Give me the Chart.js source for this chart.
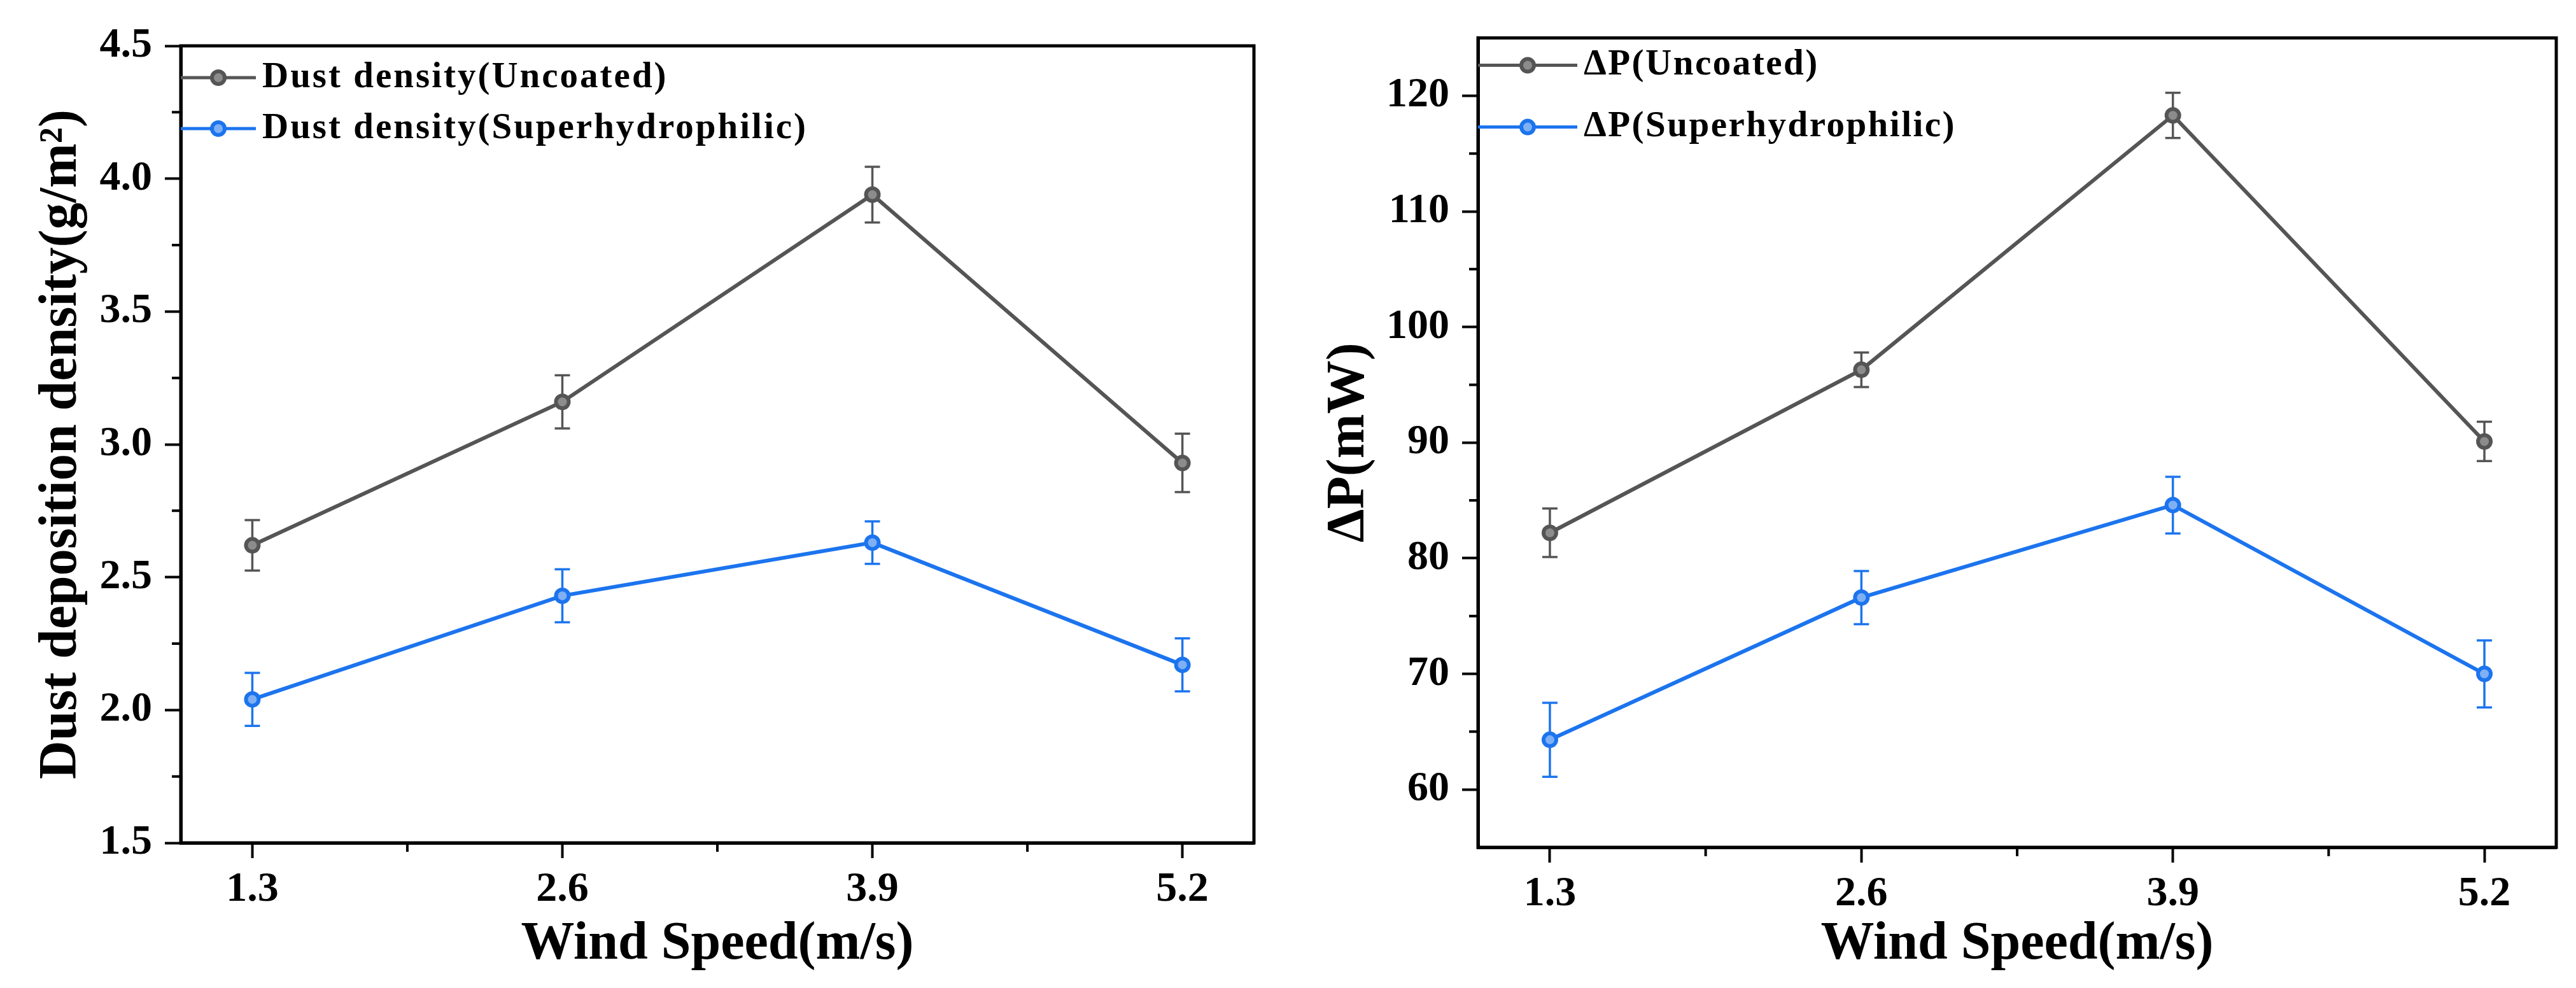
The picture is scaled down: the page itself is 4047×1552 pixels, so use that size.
<!DOCTYPE html>
<html lang="en">

<head>
  <meta charset="UTF-8" />
  <title>Dust deposition and power loss vs wind speed</title>
  <script src="https://cdn.jsdelivr.net/npm/chart.js"></script>
  <style>
    html, body { margin: 0; padding: 0; background: #ffffff; }
    body { width: 4047px; height: 1552px; position: relative; overflow: hidden; }
    canvas { position: absolute; top: 0; }
    #chartDust { left: 0; }
    #chartPower { left: 2040px; }
  </style>
</head>

<body>
  <canvas id="chartDust" width="2040" height="1552"></canvas>
  <canvas id="chartPower" width="2007" height="1552"></canvas>
</body>

</html>

<script>
  // data
  var windSpeed = [1.3, 2.6, 3.9, 5.2];

  var dustUncoated = [2.62, 3.16, 3.94, 2.93];
  var dustUncoatedErr = [0.095, 0.10, 0.105, 0.11];
  var dustSuper = [2.04, 2.43, 2.63, 2.17];
  var dustSuperErr = [0.10, 0.10, 0.08, 0.10];

  var powerUncoated = [82.2, 96.3, 118.3, 90.1];
  var powerUncoatedErr = [2.1, 1.5, 1.95, 1.7];
  var powerSuper = [64.3, 76.6, 84.6, 70.0];
  var powerSuperErr = [3.2, 2.3, 2.45, 2.9];

  // tick positions
  var xTicks = [1.3, 2.6, 3.9, 5.2];
  var xMinor = [1.95, 3.25, 4.55];
  var dustTicks = [1.5, 2.0, 2.5, 3.0, 3.5, 4.0, 4.5];
  var dustMinor = [1.75, 2.25, 2.75, 3.25, 3.75, 4.25];
  var powerTicks = [60, 70, 80, 90, 100, 110, 120];
  var powerMinor = [65, 75, 85, 95, 105, 115];

  var grey = '#555555';
  var blue = '#1c74ee';
  var serif = '"Liberation Serif", "Times New Roman", serif';

  // pares x/y para o eixo linear
  function toPoints(ys) {
    return windSpeed.map(function (x, i) { return { x: x, y: ys[i] }; });
  }

  function makeDataset(label, ys, errs, color, fill) {
    return {
      label: label,
      data: toPoints(ys),
      errors: errs,
      borderColor: color,
      backgroundColor: color,
      borderWidth: 6,
      pointRadius: 10,
      pointBorderWidth: 6,
      pointBorderColor: color,
      pointBackgroundColor: fill,
      tension: 0
    };
  }

  // frame round the plot area + minor ticks
  var framePlugin = {
    id: 'frame',
    afterDraw: function (chart) {
      var a = chart.chartArea, ctx = chart.ctx;
      var o = chart.options.plugins.frame;
      ctx.save();
      ctx.strokeStyle = '#000';
      ctx.lineWidth = 5;
      ctx.strokeRect(a.left, a.top, a.right - a.left, a.bottom - a.top);
      ctx.lineWidth = 4;
      ctx.beginPath();
      o.xMinor.forEach(function (v) {
        var px = chart.scales.x.getPixelForValue(v);
        ctx.moveTo(px, a.bottom);
        ctx.lineTo(px, a.bottom + 14);
      });
      o.yMinor.forEach(function (v) {
        var py = chart.scales.y.getPixelForValue(v);
        ctx.moveTo(a.left, py);
        ctx.lineTo(a.left - 14, py);
      });
      ctx.stroke();
      ctx.restore();
    }
  };

  // vertical error bars with caps
  var errorBarPlugin = {
    id: 'errorBars',
    beforeDatasetsDraw: function (chart) {
      var ctx = chart.ctx;
      var xs = chart.scales.x, ys = chart.scales.y;
      ctx.save();
      chart.data.datasets.forEach(function (ds) {
        ctx.strokeStyle = ds.borderColor;
        ctx.lineWidth = 3.5;
        ds.data.forEach(function (p, i) {
          var e = ds.errors[i];
          var px = xs.getPixelForValue(p.x);
          var top = ys.getPixelForValue(p.y + e);
          var bot = ys.getPixelForValue(p.y - e);
          ctx.beginPath();
          ctx.moveTo(px, top); ctx.lineTo(px, bot);
          ctx.moveTo(px - 12, top); ctx.lineTo(px + 12, top);
          ctx.moveTo(px - 12, bot); ctx.lineTo(px + 12, bot);
          ctx.stroke();
        });
      });
      ctx.restore();
    }
  };

  // legend inside the plot, top left
  var insideLegendPlugin = {
    id: 'insideLegend',
    afterDraw: function (chart) {
      var o = chart.options.plugins.insideLegend;
      var a = chart.chartArea, ctx = chart.ctx;
      ctx.save();
      ctx.font = 'bold 57px ' + serif;
      ctx.letterSpacing = o.spacing + 'px';
      ctx.textBaseline = 'middle';
      chart.data.datasets.forEach(function (ds, i) {
        var y = a.top + o.top + i * o.rowGap;
        ctx.strokeStyle = ds.borderColor;
        ctx.lineWidth = 5;
        ctx.beginPath();
        ctx.moveTo(a.left, y);
        ctx.lineTo(a.left + o.lineLen, y);
        ctx.stroke();
        ctx.beginPath();
        ctx.arc(a.left + o.lineLen / 2, y, 10, 0, Math.PI * 2);
        ctx.fillStyle = ds.pointBackgroundColor;
        ctx.fill();
        ctx.lineWidth = 6;
        ctx.stroke();
        ctx.fillStyle = '#000';
        ctx.fillText(ds.label, a.left + o.lineLen + 10, y);
      });
      ctx.restore();
    }
  };

  function makeConfig(datasets, opts) {
    return {
      type: 'line',
      data: { datasets: datasets },
      options: {
        responsive: false,
        devicePixelRatio: 1,
        animation: false,
        layout: { padding: { left: 0, top: opts.top, right: opts.right, bottom: 0 } },
        plugins: {
          legend: { display: false },
          tooltip: { enabled: false },
          frame: { xMinor: xMinor, yMinor: opts.yMinor },
          insideLegend: opts.legend
        },
        scales: {
          x: {
            type: 'linear',
            min: 1.0,
            max: 5.5,
            afterBuildTicks: function (s) { s.ticks = xTicks.map(function (v) { return { value: v }; }); },
            afterFit: function (s) { s.height = opts.xHeight; },
            ticks: {
              font: { family: serif, size: 66, weight: 'bold' },
              color: '#000',
              padding: 10,
              maxRotation: 0,
              callback: function (v) { return v.toFixed(1); }
            },
            grid: { drawOnChartArea: false, drawTicks: true, tickLength: 24, tickWidth: 4, tickColor: '#000' },
            border: { display: true, width: 5, color: '#000' },
            title: {
              display: true,
              text: 'Wind Speed(m/s)',
              font: { family: serif, size: 84, weight: 'bold' },
              color: '#000',
              padding: { top: 0, bottom: 17 }
            }
          },
          y: {
            min: opts.yMin,
            max: opts.yMax,
            afterBuildTicks: function (s) { s.ticks = opts.yTicks.map(function (v) { return { value: v }; }); },
            afterFit: function (s) { s.width = opts.yWidth; },
            ticks: {
              font: { family: serif, size: 66, weight: 'bold' },
              color: '#000',
              padding: 20,
              callback: opts.yFormat
            },
            grid: { drawOnChartArea: false, drawTicks: true, tickLength: 25, tickWidth: 4, tickColor: '#000' },
            border: { display: true, width: 5, color: '#000' },
            title: {
              display: true,
              text: opts.yTitle,
              font: { family: serif, size: 84, weight: 'bold' },
              color: '#000',
              padding: { top: opts.yTitlePad, bottom: 0 }
            }
          }
        }
      },
      plugins: [errorBarPlugin, framePlugin, insideLegendPlugin]
    };
  }

  // gráfico da esquerda: densidade de poeira
  var ctxDust = document.getElementById('chartDust').getContext('2d');
  var chartDust = new Chart(ctxDust, makeConfig([
    makeDataset('Dust density(Uncoated)', dustUncoated, dustUncoatedErr, grey, '#8c8c8c'),
    makeDataset('Dust density(Superhydrophilic)', dustSuper, dustSuperErr, blue, '#7fb0f4')
  ], {
    top: 72, right: 70, xHeight: 228, yWidth: 284,
    yMin: 1.5, yMax: 4.5, yTicks: dustTicks, yMinor: dustMinor,
    yFormat: function (v) { return v.toFixed(1); },
    yTitle: 'Dust deposition density(g/m\u00B2)', yTitlePad: 47,
    legend: { top: 50, rowGap: 80, lineLen: 118, spacing: 3 }
  }));

  // gráfico da direita: perda de potência
  var ctxPower = document.getElementById('chartPower').getContext('2d');
  var chartPower = new Chart(ctxPower, makeConfig([
    makeDataset('\u0394P(Uncoated)', powerUncoated, powerUncoatedErr, grey, '#8c8c8c'),
    makeDataset('\u0394P(Superhydrophilic)', powerSuper, powerSuperErr, blue, '#7fb0f4')
  ], {
    top: 35, right: 31, xHeight: 221, yWidth: 282,
    yMin: 55, yMax: 125, yTicks: powerTicks, yMinor: powerMinor,
    yFormat: function (v) { return String(v); },
    yTitle: '\u0394P(mW)', yTitlePad: 30,
    legend: { top: 43, rowGap: 97, lineLen: 156, spacing: 2.5 }
  }));
</script>
